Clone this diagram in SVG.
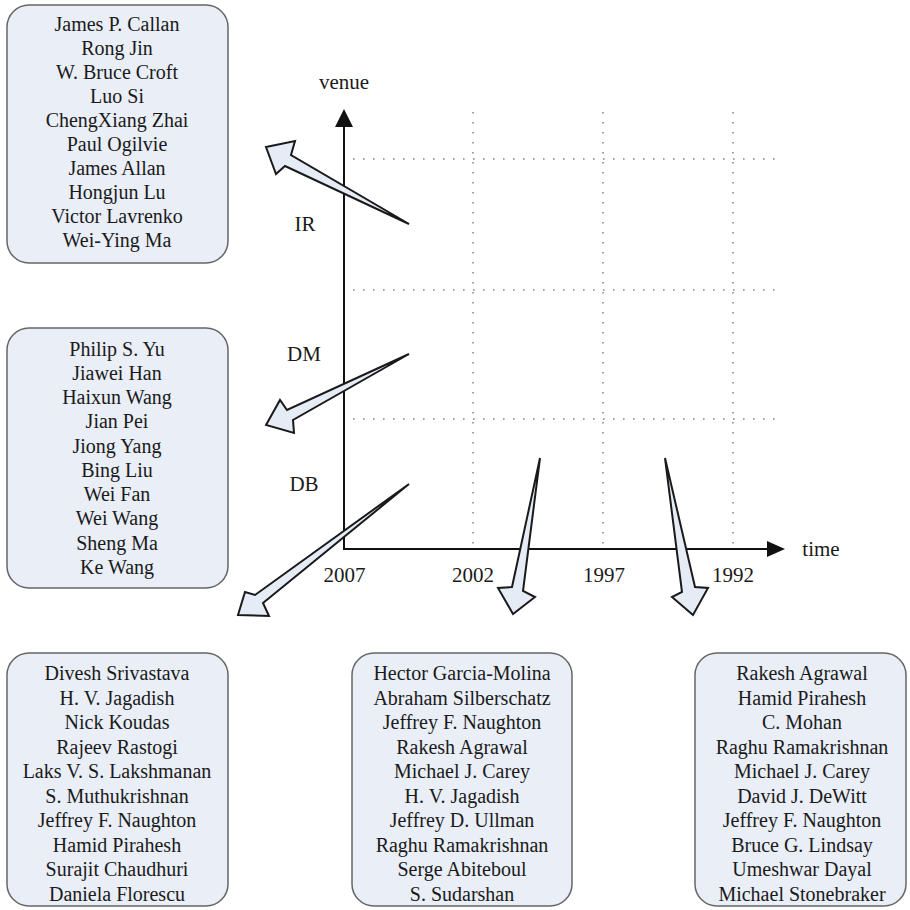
<svg xmlns="http://www.w3.org/2000/svg" width="910" height="910" viewBox="0 0 910 910">
<defs>
<style>
.box{fill:#E9EEF7;stroke:#666;stroke-width:1.5}
.nm{font-family:"Liberation Serif","Times New Roman",serif;font-size:20px;fill:#1a1a1a;text-anchor:middle}
.lb{font-family:"Liberation Serif","Times New Roman",serif;font-size:21px;fill:#1a1a1a;text-anchor:middle}
.grid{stroke:#888;stroke-width:1.6;stroke-dasharray:1.6 8.4;fill:none}
.axis{stroke:#111;stroke-width:2;fill:none}
.blk{fill:#E6ECF6;stroke:#1a1a1a;stroke-width:2;stroke-linejoin:miter}
</style>
</defs>
<rect width="910" height="910" fill="#fff"/>
<g id="grid">
<line class="grid" x1="353" y1="159" x2="783" y2="159"/>
<line class="grid" x1="353" y1="290" x2="783" y2="290"/>
<line class="grid" x1="353" y1="419" x2="783" y2="419"/>
<line class="grid" x1="473" y1="112" x2="473" y2="545"/>
<line class="grid" x1="603" y1="112" x2="603" y2="545"/>
<line class="grid" x1="733" y1="112" x2="733" y2="545"/>
</g>
<g id="axes">
<polyline class="axis" points="344,126 344,549 768,549"/>
<polygon points="344,109 335,127 353,127" fill="#111"/>
<polygon points="785,549 767,541 767,557" fill="#111"/>
<text class="lb" x="344" y="89">venue</text>
<text class="lb" x="821" y="556">time</text>
<text class="lb" x="305" y="231">IR</text>
<text class="lb" x="304" y="361">DM</text>
<text class="lb" x="304" y="491">DB</text>
<text class="lb" x="344.5" y="582">2007</text>
<text class="lb" x="473" y="582">2002</text>
<text class="lb" x="604" y="582">1997</text>
<text class="lb" x="733" y="582">1992</text>
</g>
<g id="connectors">
<polygon class="blk" points="266,147 295,141 291,155 409,224 285,166 276,174"/>
<polygon class="blk" points="266,425 280,400 287,410 409,354 293,420 294,433"/>
<polygon class="blk" points="238,615 245,592 255,595 409,484 263,603 269,616"/>
<polygon class="blk" points="513,614 498,588 512,587 540,458 523,591 535,597"/>
<polygon class="blk" points="693,615 672,597 682,592 665,458 695,587 708,588"/>
</g>
<g id="box-ir">
<rect class="box" x="7" y="5" width="221" height="258" rx="22"/>
<text class="nm" x="117" y="31">James P. Callan</text>
<text class="nm" x="117" y="55">Rong Jin</text>
<text class="nm" x="117" y="79">W. Bruce Croft</text>
<text class="nm" x="117" y="103">Luo Si</text>
<text class="nm" x="117" y="127">ChengXiang Zhai</text>
<text class="nm" x="117" y="151">Paul Ogilvie</text>
<text class="nm" x="117" y="175">James Allan</text>
<text class="nm" x="117" y="199">Hongjun Lu</text>
<text class="nm" x="117" y="223">Victor Lavrenko</text>
<text class="nm" x="117" y="247">Wei-Ying Ma</text>
</g>
<g id="box-dm">
<rect class="box" x="7" y="328" width="221" height="260" rx="22"/>
<text class="nm" x="117" y="356">Philip S. Yu</text>
<text class="nm" x="117" y="380">Jiawei Han</text>
<text class="nm" x="117" y="404">Haixun Wang</text>
<text class="nm" x="117" y="428">Jian Pei</text>
<text class="nm" x="117" y="453">Jiong Yang</text>
<text class="nm" x="117" y="477">Bing Liu</text>
<text class="nm" x="117" y="501">Wei Fan</text>
<text class="nm" x="117" y="525">Wei Wang</text>
<text class="nm" x="117" y="550">Sheng Ma</text>
<text class="nm" x="117" y="574">Ke Wang</text>
</g>
<g id="box-db2007">
<rect class="box" x="7" y="653" width="221" height="253" rx="22"/>
<text class="nm" x="117" y="680">Divesh Srivastava</text>
<text class="nm" x="117" y="704.5">H. V. Jagadish</text>
<text class="nm" x="117" y="729">Nick Koudas</text>
<text class="nm" x="117" y="753.5">Rajeev Rastogi</text>
<text class="nm" x="117" y="778">Laks V. S. Lakshmanan</text>
<text class="nm" x="117" y="802.5">S. Muthukrishnan</text>
<text class="nm" x="117" y="827">Jeffrey F. Naughton</text>
<text class="nm" x="117" y="851.5">Hamid Pirahesh</text>
<text class="nm" x="117" y="876">Surajit Chaudhuri</text>
<text class="nm" x="117" y="900.5">Daniela Florescu</text>
</g>
<g id="box-db2002">
<rect class="box" x="352" y="653" width="220" height="253" rx="22"/>
<text class="nm" x="462" y="680">Hector Garcia-Molina</text>
<text class="nm" x="462" y="704.5">Abraham Silberschatz</text>
<text class="nm" x="462" y="729">Jeffrey F. Naughton</text>
<text class="nm" x="462" y="753.5">Rakesh Agrawal</text>
<text class="nm" x="462" y="778">Michael J. Carey</text>
<text class="nm" x="462" y="802.5">H. V. Jagadish</text>
<text class="nm" x="462" y="827">Jeffrey D. Ullman</text>
<text class="nm" x="462" y="851.5">Raghu Ramakrishnan</text>
<text class="nm" x="462" y="876">Serge Abiteboul</text>
<text class="nm" x="462" y="900.5">S. Sudarshan</text>
</g>
<g id="box-db1997">
<rect class="box" x="695" y="653" width="211" height="253" rx="22"/>
<text class="nm" x="802" y="680">Rakesh Agrawal</text>
<text class="nm" x="802" y="704.5">Hamid Pirahesh</text>
<text class="nm" x="802" y="729">C. Mohan</text>
<text class="nm" x="802" y="753.5">Raghu Ramakrishnan</text>
<text class="nm" x="802" y="778">Michael J. Carey</text>
<text class="nm" x="802" y="802.5">David J. DeWitt</text>
<text class="nm" x="802" y="827">Jeffrey F. Naughton</text>
<text class="nm" x="802" y="851.5">Bruce G. Lindsay</text>
<text class="nm" x="802" y="876">Umeshwar Dayal</text>
<text class="nm" x="802" y="900.5">Michael Stonebraker</text>
</g>
</svg>
